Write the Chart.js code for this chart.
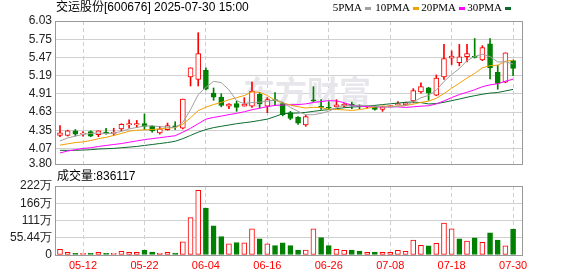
<!DOCTYPE html>
<html>
<head>
<meta charset="utf-8">
<script src="https://cdn.jsdelivr.net/npm/chart.js@4.4.1/dist/chart.umd.min.js"></script>
<style>
  html, body { margin: 0; padding: 0; background: #fff; }
  #wrap { position: relative; width: 578px; height: 276px; }
  canvas { position: absolute; left: 0; top: 0; }
</style>
</head>
<body>
<div id="wrap">
  <canvas id="kChart" width="578" height="276"></canvas>
  <canvas id="volChart" width="578" height="276"></canvas>
</div>
<script>
// trading days shown (05-07 .. 07-30)
const dates = ["05-07","05-08","05-09","05-12","05-13","05-14","05-15","05-16","05-19","05-20",
  "05-21","05-22","05-23","05-26","05-27","05-28","05-29","05-30","06-03","06-04",
  "06-05","06-06","06-09","06-10","06-11","06-12","06-13","06-16","06-17","06-18",
  "06-19","06-20","06-23","06-24","06-25","06-26","06-27","06-30","07-01","07-02",
  "07-03","07-04","07-07","07-08","07-09","07-10","07-11","07-14","07-15","07-16",
  "07-17","07-18","07-21","07-22","07-23","07-24","07-25","07-28","07-29","07-30"];

const openP = [4.27,4.27,4.34,4.29,4.33,4.28,4.32,4.30,4.37,4.43,
  4.43,4.45,4.41,4.31,4.36,4.41,4.38,5.17,5.13,5.27,
  4.92,4.86,4.72,4.76,4.72,4.72,4.90,4.72,4.82,4.76,
  4.62,4.55,4.43,4.81,4.71,4.70,4.71,4.72,4.75,4.72,
  4.71,4.71,4.67,4.71,4.74,4.74,4.80,4.94,5.00,4.89,
  5.17,5.46,5.39,5.48,5.48,5.43,5.68,5.24,5.09,5.42];
const highP = [4.42,4.35,4.36,4.33,4.34,4.34,4.38,4.38,4.45,4.51,
  4.50,4.60,4.42,4.41,4.46,4.48,4.83,5.31,5.85,5.31,
  5.00,4.91,4.76,4.80,4.85,5.09,4.93,4.85,4.93,4.77,
  4.64,4.56,4.58,5.02,4.82,4.79,4.82,4.76,4.78,4.74,
  4.73,4.72,4.72,4.73,4.79,4.78,4.99,5.08,5.01,5.20,
  5.67,5.57,5.67,5.67,5.76,5.65,5.76,5.35,5.54,5.43];
const lowP = [4.25,4.26,4.26,4.26,4.25,4.25,4.29,4.27,4.34,4.38,
  4.39,4.36,4.32,4.29,4.35,4.36,4.37,5.03,5.03,4.97,
  4.81,4.71,4.68,4.64,4.72,4.70,4.69,4.62,4.73,4.57,
  4.51,4.44,4.41,4.79,4.67,4.67,4.71,4.71,4.68,4.68,
  4.69,4.66,4.64,4.71,4.74,4.73,4.77,4.92,4.81,4.88,
  5.13,5.36,5.34,5.40,5.46,5.42,5.14,4.98,5.08,5.19];
const closeP = [4.31,4.34,4.29,4.30,4.26,4.34,4.30,4.32,4.44,4.45,
  4.45,4.41,4.34,4.37,4.42,4.40,4.83,5.31,5.53,4.98,
  4.86,4.73,4.75,4.70,4.75,4.95,4.76,4.82,4.80,4.59,
  4.53,4.46,4.56,4.80,4.70,4.69,4.74,4.75,4.73,4.71,
  4.72,4.67,4.71,4.73,4.76,4.77,4.96,5.02,4.92,5.15,
  5.45,5.49,5.48,5.53,5.47,5.62,5.31,5.07,5.54,5.30];
const prevClose = 4.22;

const ma5 = [4.185,4.23,4.26,4.285,4.30,4.306,4.298,4.304,4.332,4.37,
  4.392,4.414,4.418,4.404,4.398,4.388,4.472,4.666,4.898,5.01,
  5.102,5.082,4.97,4.804,4.758,4.776,4.782,4.796,4.816,4.784,
  4.70,4.64,4.588,4.588,4.61,4.642,4.698,4.736,4.722,4.724,
  4.73,4.716,4.708,4.708,4.718,4.728,4.786,4.848,4.886,4.964,
  5.10,5.206,5.298,5.42,5.484,5.518,5.482,5.40,5.402,5.368];
const ma10 = [4.12,4.14,4.16,4.17,4.19,4.22,4.24,4.27,4.30,4.335,
  4.349,4.356,4.361,4.368,4.384,4.39,4.443,4.542,4.651,4.704,
  4.745,4.777,4.818,4.851,4.884,4.939,4.932,4.883,4.81,4.771,
  4.738,4.711,4.692,4.702,4.697,4.671,4.669,4.662,4.655,4.667,
  4.686,4.707,4.722,4.715,4.721,4.729,4.751,4.778,4.797,4.841,
  4.914,4.996,5.073,5.153,5.224,5.309,5.344,5.349,5.411,5.426];
const ma20 = [4.00,4.03,4.05,4.07,4.08,4.10,4.115,4.13,4.145,4.165,
  4.185,4.205,4.22,4.235,4.25,4.265,4.32,4.38,4.45,4.52,
  4.547,4.567,4.59,4.61,4.634,4.665,4.688,4.713,4.731,4.738,
  4.742,4.744,4.755,4.777,4.791,4.805,4.801,4.773,4.733,4.719,
  4.712,4.709,4.707,4.709,4.709,4.70,4.71,4.72,4.726,4.754,
  4.80,4.852,4.898,4.934,4.973,5.019,5.048,5.064,5.104,5.134];
const ma30 = [4.04,4.04,4.04,4.045,4.05,4.06,4.065,4.07,4.08,4.09,
  4.10,4.115,4.13,4.145,4.16,4.18,4.22,4.27,4.32,4.36,
  4.39,4.41,4.43,4.45,4.465,4.48,4.50,4.52,4.56,4.603,
  4.611,4.615,4.624,4.64,4.655,4.667,4.681,4.696,4.705,4.714,
  4.723,4.732,4.744,4.756,4.767,4.78,4.784,4.774,4.754,4.76,
  4.779,4.805,4.829,4.857,4.881,4.903,4.921,4.93,4.954,4.978];

// volume in 万 (10k)
const volume = [18.4,8.7,5.4,5.4,5.4,8.7,5.4,5.4,11.9,8.7,
  8.7,16.2,9.7,6.5,8.7,6.5,42.2,120,207.7,150.4,
  94.1,59.5,35.7,40,39,84.4,51.9,35.7,30.3,39,
  30.3,16.2,16.2,84.4,56.3,30.3,18.4,15.1,16.2,13,
  8.7,9.7,8.7,8.7,15.1,11.9,47.6,31.4,29.2,37.9,
  102.8,84.4,51.9,44.4,55.2,41.1,71.4,47.6,29.2,83.61];
const lastVolume = "836117";

const maNames = ["5PMA", "10PMA", "20PMA", "30PMA"];
const tickDates = ["05-12","05-22","06-04","06-16","06-26","07-08","07-18","07-30"];
const priceTicks = [3.83, 4.07, 4.35, 4.63, 4.91, 5.19, 5.47, 5.75, 6.03];
const priceTickLabels = ["3.80","4.07","4.35","4.63","4.91","5.19","5.47","5.75","6.03"];
const volTicks = [0, 55.44, 110.88, 166.32, 221.76];
const volTickLabels = ["0","55.44万","111万","166万","222万"];

const RED = "#ff0000";
const GREEN = "#008000";
const maColors = ["#a0a0a0", "#f0a000", "#ff00ff", "#0b6b2e"];

const up = closeP.map((c, i) => c >= openP[i]);
const volUp = closeP.map((c, i) => c >= (i ? closeP[i - 1] : prevClose));
const tickIdx = tickDates.map(d => dates.indexOf(d));

const xMin = -0.65, xMax = 60.16;

function xAxis(showLabels) {
  return {
    type: "linear", min: xMin, max: xMax, offset: false,
    afterBuildTicks: s => { s.ticks = tickIdx.map(v => ({ value: v })); },
    afterFit: s => { s.height = showLabels ? 21 : 0; },
    ticks: {
      display: showLabels, autoSkip: false, maxRotation: 0, padding: 4,
      color: RED, font: { family: "Liberation Sans, Arial, sans-serif", size: 11 },
      callback: v => dates[v]
    },
    grid: { color: "#cfcfcf", drawTicks: false, offset: false },
    border: { display: false, dash: [4, 3] }
  };
}

const framePlugin = {
  id: "frame",
  afterDraw(chart) {
    const { ctx, chartArea: a } = chart;
    ctx.save();
    ctx.strokeStyle = "#999";
    ctx.lineWidth = 1;
    ctx.strokeRect(a.left + 0.5, a.top + 0.5, a.right - a.left, a.bottom - a.top);
    ctx.restore();
  }
};

const textPlugin = {
  id: "texts",
  beforeDatasetsDraw(chart) {
    const ctx = chart.ctx;
    ctx.save();
    ctx.fillStyle = "#e6e6eb";
    ctx.font = "bold 32px 'Noto Sans CJK SC'";
    ctx.textBaseline = "middle";
    ctx.fillText("东方财富", 243, 92);
    ctx.restore();
  },
  afterDraw(chart) {
    const ctx = chart.ctx;
    ctx.save();
    ctx.fillStyle = "#000";
    ctx.textBaseline = "middle";
    ctx.font = "12px 'Liberation Sans', 'Noto Sans CJK SC'";
    ctx.fillText("交运股份[600676] 2025-07-30 15:00", 56, 8);
    const boxX = [365, 413, 459, 505];
    ctx.font = "11px 'Liberation Serif'";
    ctx.textAlign = "right";
    maNames.forEach((name, i) => {
      ctx.fillStyle = "#000";
      ctx.fillText(name, boxX[i] - 3, 8);
      ctx.fillStyle = maColors[i];
      ctx.fillRect(boxX[i], 7, 6, 3);
    });
    ctx.textAlign = "left";
    ctx.fillStyle = "#000";
    ctx.font = "12px 'Liberation Sans', 'Noto Sans CJK SC'";
    ctx.fillText("成交量:" + lastVolume, 57, 177);
    ctx.restore();
  }
};

const yFont = { family: "Liberation Sans, Arial, sans-serif", size: 12 };

new Chart(document.getElementById("kChart"), {
  type: "bar",
  data: {
    datasets: [
      {
        label: "wick", order: 3, grouped: false, barThickness: 1,
        data: dates.map((d, i) => ({ x: i, y: [lowP[i], highP[i]] })),
        backgroundColor: up.map(u => u ? RED : GREEN)
      },
      {
        label: "body", order: 2, grouped: false, barThickness: 5, minBarLength: 1,
        data: dates.map((d, i) => ({ x: i, y: [openP[i], closeP[i]] })),
        backgroundColor: up.map(u => u ? "#fff" : GREEN),
        borderColor: up.map(u => u ? RED : GREEN),
        borderWidth: 1, borderSkipped: false
      }
    ].concat([ma5, ma10, ma20, ma30].map((arr, k) => ({
      type: "line", label: maNames[k], order: 1,
      data: arr.map((v, i) => ({ x: i, y: v })),
      borderColor: maColors[k], borderWidth: 1, pointRadius: 0, tension: 0
    })))
  },
  options: {
    responsive: false, animation: false,
    layout: { padding: { left: 0, top: 21, right: 56, bottom: 112 } },
    plugins: { legend: { display: false }, tooltip: { enabled: false } },
    scales: {
      x: xAxis(false),
      y: {
        min: priceTicks[0], max: priceTicks[priceTicks.length - 1], beginAtZero: false,
        afterBuildTicks: s => { s.ticks = priceTicks.map(v => ({ value: v })); },
        afterFit: s => { s.width = 55; },
        ticks: { color: "#222", font: yFont, padding: 3, autoSkip: false,
          callback: (v, i) => priceTickLabels[i] },
        grid: { color: "#d0d0d0", drawTicks: false },
        border: { display: false }
      }
    }
  },
  plugins: [textPlugin, framePlugin]
});

new Chart(document.getElementById("volChart"), {
  type: "bar",
  data: {
    datasets: [{
      label: "volume", grouped: false, barThickness: 5,
      data: volume.map((v, i) => ({ x: i, y: v })),
      backgroundColor: volUp.map(u => u ? "#fff" : GREEN),
      borderColor: volUp.map(u => u ? RED : GREEN),
      borderWidth: 1, borderSkipped: false
    }]
  },
  options: {
    responsive: false, animation: false,
    layout: { padding: { left: 0, top: 186, right: 56, bottom: 0 } },
    plugins: { legend: { display: false }, tooltip: { enabled: false } },
    scales: {
      x: xAxis(true),
      y: {
        min: 0, max: volTicks[volTicks.length - 1],
        afterBuildTicks: s => { s.ticks = volTicks.map(v => ({ value: v })); },
        afterFit: s => { s.width = 55; },
        ticks: { color: "#222", font: yFont, padding: 3, autoSkip: false,
          callback: (v, i) => volTickLabels[i] },
        grid: { color: "#d0d0d0", drawTicks: false },
        border: { display: false }
      }
    }
  },
  plugins: [framePlugin]
});
</script>
</body>
</html>
